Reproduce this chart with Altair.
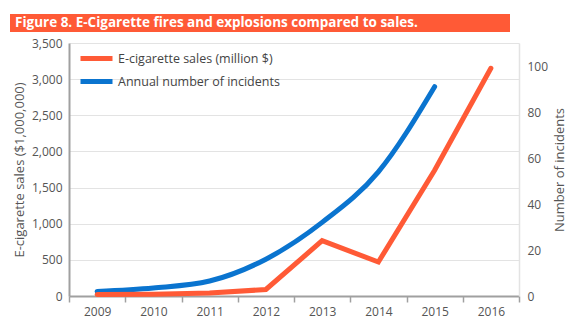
import altair as alt
import pandas as pd

years = ["2009", "2010", "2011", "2012", "2013", "2014", "2015", "2016"]
sales = [20, 25, 40, 90, 765, 470, 1740, 3150]
incident_years = ["2009", "2010", "2011", "2012", "2013", "2014", "2015"]
incidents = [2, 3.5, 6.5, 16, 32, 54, 91]

series_names = ["E-cigarette sales (million $)", "Annual number of incidents"]
series_colors = ["#FF5A36", "#0A74CF"]
title_text = "Figure 8. E-Cigarette fires and explosions compared to sales."

FONT = "Open Sans"

sales_df = pd.DataFrame({"year": years, "value": sales, "series": series_names[0]})
inc_df = pd.DataFrame({"year": incident_years, "value": incidents, "series": series_names[1]})

x_enc = alt.X(
    "year:O",
    sort=years,
    scale=alt.Scale(type="band", domain=years, paddingInner=0, paddingOuter=0),
    axis=alt.Axis(title=None, labelAngle=0, tickBand="extent", domainColor="#a0a0a0",
                  domainWidth=2, tickColor="#a0a0a0", tickWidth=1.5, tickSize=6,
                  labelColor="#555555", labelFontSize=12, labelFont=FONT, labelPadding=4),
)

color_enc = alt.Color(
    "series:N",
    scale=alt.Scale(domain=series_names, range=series_colors),
    legend=alt.Legend(title=None, orient="none", legendX=15, legendY=3, padding=0,
                      symbolType="M-1.6,0H1.6", symbolSize=400, symbolStrokeWidth=5,
                      labelFont=FONT, labelFontSize=12.5, labelColor="#444444",
                      labelLimit=400, rowPadding=-3, labelOffset=9),
)

sales_line = alt.Chart(sales_df).mark_line(strokeWidth=5, strokeCap="round").encode(
    x=x_enc,
    y=alt.Y("value:Q", scale=alt.Scale(domain=[0, 3500], nice=False),
            axis=alt.Axis(title="E-cigarette sales ($1,000,000)", values=list(range(0, 3501, 500)),
                          format=",d", grid=True, gridColor="#e3e3e3", gridWidth=1.2,
                          domainColor="#a0a0a0", domainWidth=2, ticks=False,
                          labelColor="#555555", labelFontSize=12, labelFont=FONT, labelPadding=7,
                          titleFont=FONT, titleFontSize=13, titleFontWeight="normal",
                          titleColor="#555555", titlePadding=5)),
    color=color_enc,
)

inc_line = alt.Chart(inc_df).mark_line(strokeWidth=5, strokeCap="round", interpolate="monotone").encode(
    x=x_enc,
    y=alt.Y("value:Q", scale=alt.Scale(domain=[0, 110], nice=False),
            axis=alt.Axis(orient="right", title="Number of incidents", values=list(range(0, 101, 20)),
                          grid=False, domainColor="#e3e3e3", domainWidth=1.5, ticks=False,
                          labelColor="#555555", labelFontSize=12, labelFont=FONT, labelPadding=8,
                          titleFont=FONT, titleFontSize=13, titleFontWeight="normal",
                          titleColor="#555555", titleAngle=270, titlePadding=19)),
    color=color_enc,
)

banner_df = pd.DataFrame({"t": [title_text]})
banner = alt.Chart(banner_df).mark_rect(color="#FF5A36").encode(
    x=alt.value(-59), x2=alt.value(441), y=alt.value(-29), y2=alt.value(-11)
)
banner_text = alt.Chart(banner_df).mark_text(
    color="white", font=FONT, fontWeight="bold", fontSize=13.5, align="left", baseline="middle"
).encode(x=alt.value(-54), y=alt.value(-20), text="t:N")

chart = alt.layer(banner, banner_text, inc_line, sales_line).resolve_scale(y="independent").properties(
    width=450, height=253,
    autosize=alt.AutoSizeParams(type="none"),
    padding={"left": 69, "top": 43, "right": 58, "bottom": 33},
    background="white",
).configure_view(stroke=None)

chart.save("out.html", embed_options={"renderer": "svg", "actions": False})
